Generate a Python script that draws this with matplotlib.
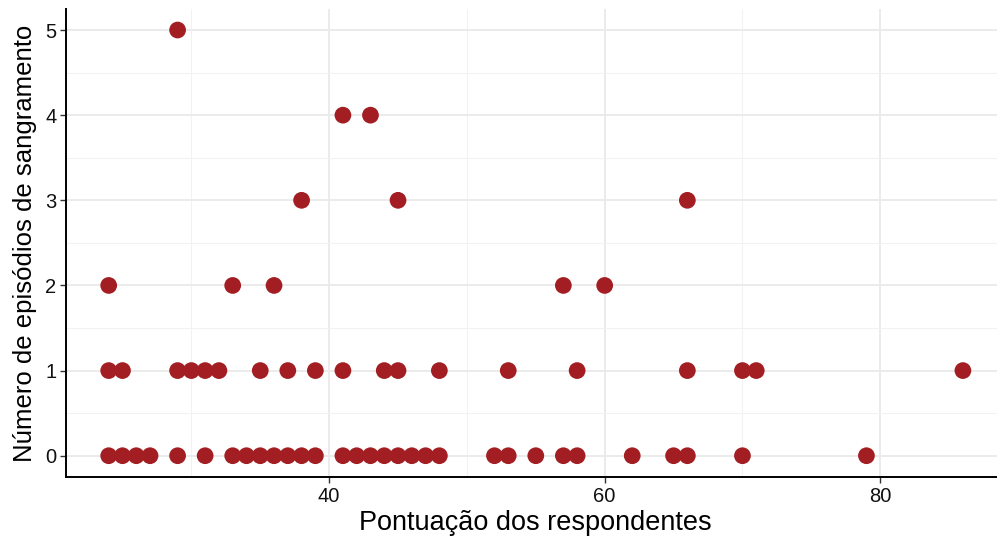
import matplotlib
matplotlib.use("Agg")
import matplotlib.pyplot as plt
from matplotlib.ticker import MultipleLocator

plt.rcParams['font.family'] = ['Liberation Sans', 'DejaVu Sans']

# Data: (score, episodes) grouped by number of bleeding episodes
score_ep0 = [24, 25, 26, 27, 29, 31, 33, 34, 35, 36, 37, 38, 39, 41, 42, 43, 44, 45, 46, 47, 48,
             52, 53, 55, 57, 58, 62, 65, 66, 70, 79]
score_ep1 = [24, 25, 29, 30, 31, 32, 35, 37, 39, 41, 44, 45, 48, 53, 58, 66, 70, 71, 86]
score_ep2 = [24, 33, 36, 57, 60]
score_ep3 = [38, 45, 66]
score_ep4 = [41, 43]
score_ep5 = [29]

groups = [(0, score_ep0), (1, score_ep1), (2, score_ep2), (3, score_ep3), (4, score_ep4), (5, score_ep5)]
x_vals, y_vals = [], []
for ep, scores in groups:
    x_vals += scores
    y_vals += [ep] * len(scores)

xlabel = "Pontuação dos respondentes"
ylabel = "Número de episódios de sangramento"

fig = plt.figure(figsize=(9.97, 5.37), dpi=100)
left_px, right_px = 66, 1005.6
ax = fig.add_axes([left_px/997, 1 - 477/537, (right_px - left_px)/997, (477 - 8.75)/537])

ax.scatter(x_vals, y_vals, s=145, color='#A21E23', edgecolors='none', zorder=3)

ax.set_xlim(20.9, 89.1)
ax.set_ylim(-0.25, 5.25)
ax.xaxis.set_major_locator(MultipleLocator(20))
ax.xaxis.set_minor_locator(MultipleLocator(10))
ax.yaxis.set_major_locator(MultipleLocator(1))
ax.yaxis.set_minor_locator(MultipleLocator(0.5))

ax.grid(which='major', color='#EBEBEB', linewidth=1.4, zorder=0)
ax.grid(which='minor', color='#F2F2F2', linewidth=0.8, zorder=0)
ax.set_axisbelow(True)

for side in ['top', 'right']:
    ax.spines[side].set_visible(False)
for side in ['left', 'bottom']:
    ax.spines[side].set_linewidth(1.4)
    ax.spines[side].set_color('black')

ax.tick_params(which='major', length=4, width=1.0, color='#333333', labelsize=14.5, labelcolor='#111111', pad=3)
ax.tick_params(which='minor', length=0)

ax.set_xlabel(xlabel, fontsize=19.5, color='black', labelpad=3)
ax.set_ylabel(ylabel, fontsize=18.5, color='black', labelpad=6)

fig.savefig("out.png", dpi=100)
